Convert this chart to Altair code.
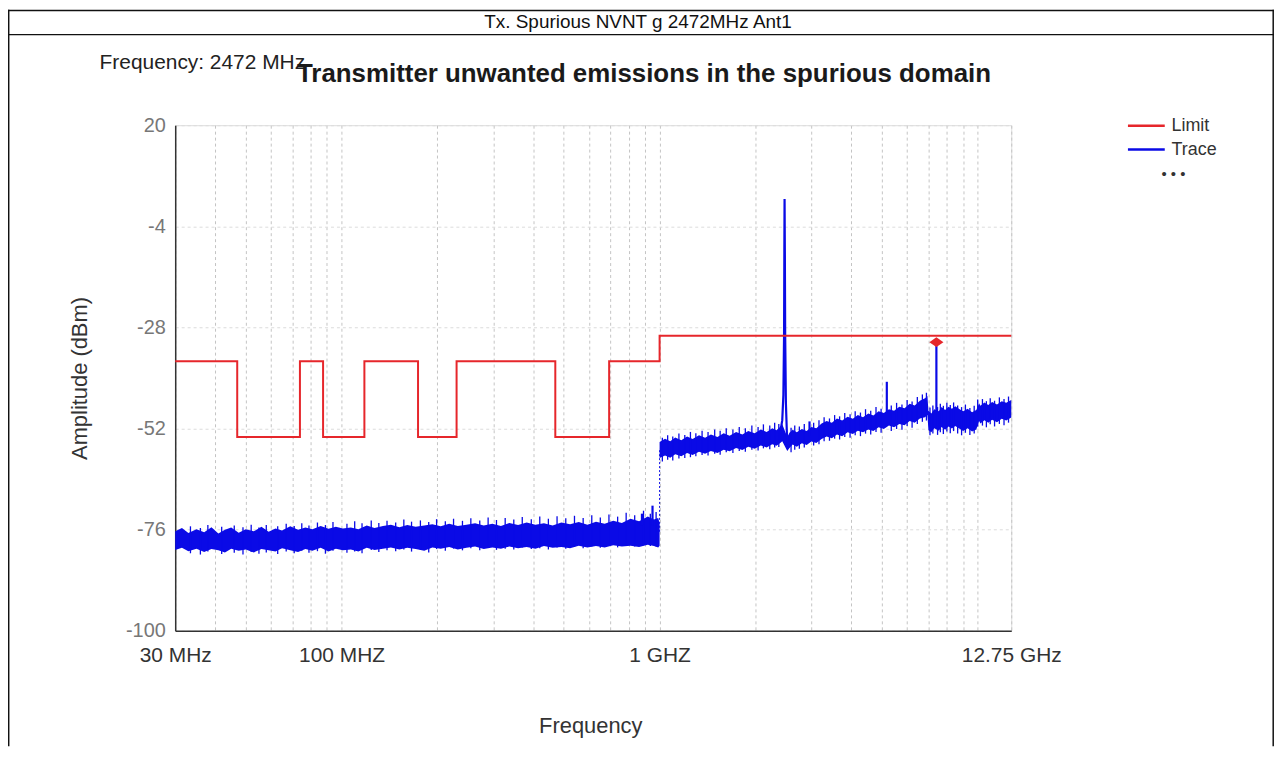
import altair as alt
import pandas as pd

# ---------------- data ----------------
limit_f = [30, 47, 47, 74, 74, 87.5, 87.5, 118, 118, 174, 174, 230, 230, 470, 470, 694, 694, 1000, 1000, 12750]
limit_db = [-36, -36, -54, -54, -36, -36, -54, -54, -36, -36, -54, -54, -36, -36, -54, -54, -36, -36, -30, -30]

# noise band of the trace: upper / lower envelope (dBm) at frequencies (MHz)
low_f = [30, 31.5, 33, 35, 37, 39, 41, 43, 45, 47.5,
         50, 53, 56, 59, 62, 65, 69, 73, 77, 81,
         86, 91, 96, 101, 107, 113, 120, 127, 135, 143,
         152, 161, 171, 182, 193, 205, 218, 232, 247, 263,
         280, 298, 317, 337, 359, 382, 407, 433, 461, 491,
         523, 557, 593, 631, 672, 715, 761, 810, 862, 918,
         960, 990, 1000]
low_hi = [-76.4, -75.6, -76.8, -75.9, -76.6, -75.4, -76.9, -76.0, -75.5, -76.7,
          -75.9, -76.4, -75.3, -76.5, -75.7, -76.2, -75.2, -76.0, -75.5, -75.9,
          -75.1, -75.8, -75.3, -75.7, -75.5, -75.9, -75.0, -75.6, -75.1, -74.8,
          -75.4, -74.9, -75.3, -75.0, -74.7, -75.2, -74.6, -75.1, -74.8, -74.5,
          -75.0, -74.6, -75.1, -74.4, -74.9, -74.3, -74.8, -74.5, -75.0, -74.3,
          -74.7, -74.2, -74.8, -74.1, -74.6, -73.9, -74.4, -73.4, -74.0, -72.9,
          -73.6, -73.2, -74.5]
low_lo = [-80.8, -80.3, -81.1, -80.5, -81.3, -80.6, -80.9, -81.4, -80.5, -81.0,
          -80.7, -81.4, -80.6, -80.9, -81.2, -80.4, -80.9, -81.3, -80.6, -81.0,
          -80.3, -81.2, -80.5, -80.9, -80.7, -81.2, -80.3, -80.8, -80.5, -80.2,
          -80.7, -80.3, -80.6, -81.0, -80.2, -80.5, -80.1, -80.7, -80.3, -80.0,
          -80.6, -80.2, -80.5, -80.0, -80.4, -80.1, -80.5, -79.9, -80.3, -80.1,
          -80.4, -79.8, -80.2, -79.9, -80.2, -79.7, -80.0, -79.8, -80.1, -79.6,
          -79.9, -80.2, -79.8]

high_f = [1000, 1040, 1080, 1120, 1170, 1220, 1270, 1330, 1390, 1450,
          1520, 1590, 1660, 1740, 1820, 1900, 1990, 2080, 2170, 2260,
          2330, 2390, 2430, 2520, 2560, 2620, 2700, 2800, 2900, 3000,
          3110, 3230, 3350, 3480, 3610, 3750, 3900, 4050, 4200, 4360,
          4530, 4700, 4880, 5070, 5260, 5460, 5670, 5890, 6110, 6340,
          6580, 6830, 6950, 7000, 7150, 7300, 7550, 7700, 7900, 8100,
          8300, 8500, 8800, 9000, 9300, 9600, 9900, 10100, 10200, 10500,
          10800, 11100, 11500, 11900, 12300, 12750]
high_hi = [-55.2, -54.4, -55.0, -54.1, -54.8, -53.9, -54.5, -53.6, -54.2, -53.4,
           -54.0, -53.1, -53.7, -52.8, -53.4, -52.6, -53.1, -52.2, -52.8, -51.9,
           -52.4, -51.6, -51.0, -54.0, -53.0, -52.3, -52.9, -52.1, -52.6, -51.6,
           -51.9, -50.8, -50.2, -50.6, -49.6, -50.1, -49.2, -49.7, -48.8, -49.3,
           -48.4, -48.9, -47.9, -48.3, -47.4, -47.8, -46.8, -47.2, -46.1, -46.5,
           -45.4, -44.8, -44.3, -47.8, -48.4, -47.4, -47.9, -46.9, -47.6, -46.8,
           -47.3, -46.7, -47.5, -47.9, -47.3, -48.1, -47.6, -46.0, -46.6, -45.8,
           -46.4, -45.7, -46.3, -45.5, -45.9, -45.2]
high_lo = [-59.0, -58.4, -58.9, -58.1, -58.6, -57.8, -58.3, -57.5, -58.0, -57.3,
           -57.8, -57.0, -57.4, -56.6, -57.1, -56.3, -56.8, -56.0, -56.5, -55.7,
           -56.1, -55.5, -55.0, -57.3, -56.6, -55.8, -56.3, -55.5, -55.9, -55.1,
           -55.4, -54.5, -53.9, -54.3, -53.4, -53.8, -52.9, -53.3, -52.5, -52.9,
           -52.2, -52.6, -51.7, -52.1, -51.3, -51.7, -50.9, -51.2, -50.2, -50.6,
           -49.6, -49.3, -48.8, -52.4, -52.9, -51.9, -52.5, -51.6, -52.3, -51.5,
           -52.0, -51.4, -52.1, -52.6, -51.9, -52.7, -52.2, -50.2, -50.8, -50.0,
           -50.6, -49.9, -50.5, -49.7, -50.1, -49.4]

# short noise excursions sticking out of the band
hair_f = [33.5, 36, 38, 42, 46, 49, 52, 55, 58, 63,
          67, 71, 75, 79, 84, 89, 94, 104, 110, 116,
          124, 131, 139, 148, 157, 166, 177, 188, 199, 212,
          225, 240, 255, 272, 289, 307, 327, 348, 370, 395,
          420, 447, 476, 507, 540, 575, 612, 651, 693, 738,
          785, 835, 890, 935, 975,
          1020, 1060, 1100, 1150, 1200, 1250, 1300, 1360, 1420, 1490,
          1550, 1620, 1700, 1780, 1860, 1950, 2040, 2120, 2220, 2300,
          2370, 2590, 2660, 2750, 2850, 3050, 3170, 3290, 3420, 3550,
          3680, 3820, 3970, 4120, 4280, 4440, 4610, 4790, 4970, 5350,
          5560, 5780, 6000, 6220, 6460, 6700, 6900, 7080, 7230, 7480,
          7630, 7800, 8000, 8200, 8400, 8650, 8900, 9150, 9450, 9750,
          10000, 10350, 10650, 10950, 11300, 11700, 12100, 12500]
hair_top = [-75.2, -75.6, -74.9, -75.3, -75.0, -75.4, -74.8, -75.5, -74.9, -75.2,
            -74.6, -75.1, -74.5, -75.0, -74.3, -74.9, -74.2, -74.6, -74.0, -74.5,
            -73.8, -74.4, -73.9, -74.3, -73.6, -74.1, -73.8, -74.2, -73.5, -74.0,
            -73.4, -73.9, -73.3, -73.8, -73.1, -73.7, -73.2, -73.6, -73.0, -73.5,
            -72.9, -73.4, -72.8, -73.3, -72.7, -73.2, -72.6, -73.1, -72.4, -72.9,
            -72.0, -72.6, -71.5, -72.2, -71.8,
            -54.2, -53.6, -53.9, -53.2, -53.5, -52.8, -53.1, -52.5, -52.8, -52.2,
            -52.5, -51.9, -52.2, -51.6, -51.9, -51.3, -51.6, -51.0, -51.3, -50.6,
            -50.9, -51.8, -51.3, -51.5, -50.9, -50.6, -50.0, -49.3, -49.6, -48.8,
            -49.1, -48.3, -48.6, -47.9, -48.2, -47.4, -47.8, -46.9, -47.3, -46.5,
            -45.9, -46.3, -45.2, -45.6, -44.5, -43.9, -43.5, -47.0, -46.5, -46.9,
            -46.1, -46.6, -45.9, -46.4, -45.8, -46.5, -46.9, -46.3, -47.1, -46.6,
            -45.1, -45.0, -45.5, -44.8, -45.4, -44.6, -45.0, -44.4]
hair_bot = [-81.6, -81.9, -81.2, -81.8, -81.5, -81.9, -81.3, -81.7, -81.4, -81.8,
            -81.2, -81.6, -81.0, -81.5, -81.1, -81.7, -81.0, -81.5, -81.2, -81.6,
            -80.8, -81.3, -80.9, -81.1, -80.7, -81.2, -80.8, -81.4, -80.6, -81.0,
            -80.5, -80.9, -80.4, -80.9, -80.3, -80.8, -80.5, -80.7, -80.2, -80.6,
            -80.4, -80.7, -80.2, -80.5, -80.1, -80.4, -80.0, -80.3, -79.9, -80.2,
            -79.8, -80.0, -79.7, -79.9, -80.0,
            -59.8, -59.4, -59.6, -59.1, -59.0, -58.8, -58.6, -58.3, -58.4, -58.0,
            -58.2, -57.6, -57.8, -57.3, -57.5, -57.0, -57.2, -56.7, -56.9, -56.5,
            -56.4, -57.6, -57.0, -56.8, -56.5, -56.0, -55.7, -55.0, -54.9, -54.4,
            -54.6, -54.0, -54.2, -53.6, -53.8, -53.2, -53.4, -52.8, -53.0, -52.6,
            -52.1, -52.3, -51.4, -51.8, -50.9, -50.4, -50.1, -53.6, -53.2, -53.5,
            -52.9, -53.3, -52.7, -53.1, -52.6, -53.2, -53.6, -53.0, -53.5, -53.2,
            -51.5, -51.3, -51.7, -51.0, -51.5, -50.9, -51.2, -50.6]

peak_f = [2400, 2430, 2450, 2462, 2467, 2471, 2476, 2482, 2495, 2515, 2540]
peak_db = [-52.5, -50.0, -44.0, -30.0, -10.0, 2.5, -10.0, -30.0, -46.0, -54.0, -56.5]

spike_f = [880, 950, 2960, 5180, 7416]
spike_base = [-75.0, -75.0, -54.0, -48.5, -48.0]
spike_top = [-72.2, -70.3, -50.3, -40.9, -31.6]

step_f = [1000]
step_from = [-76.5]
step_to = [-57.0]

marker_f = [7416]
marker_db = [-31.5]

tick_values = [30, 40, 50, 60, 70, 80, 90, 100, 200, 300, 400, 500, 600, 700, 800, 900,
               1000, 2000, 3000, 4000, 5000, 6000, 7000, 8000, 9000, 10000, 12750]
label_values = [30, 100, 1000, 12750]
label_texts = ["30 MHz", "100 MHZ", "1 GHZ", "12.75 GHz"]
y_ticks = [-100, -76, -52, -28, -4, 20]

series_names = ["Limit", "Trace"]
RED = "#e6262b"
BLUE = "#0a0ae6"
FONT = "Liberation Sans"

# ---------------- tables ----------------
limit_df = pd.DataFrame({"f": limit_f, "db": limit_db, "idx": list(range(len(limit_f))), "series": "Limit"})
band_df = pd.concat([
    pd.DataFrame({"f": low_f, "hi": low_hi, "lo": low_lo, "seg": "low"}),
    pd.DataFrame({"f": high_f, "hi": high_hi, "lo": high_lo, "seg": "high"}),
])
hair_df = pd.DataFrame({"f": hair_f, "top": hair_top, "bot": hair_bot})
peak_df = pd.DataFrame({"f": peak_f, "db": peak_db, "series": "Trace"})
spike_df = pd.DataFrame({"f": spike_f, "base": spike_base, "top": spike_top, "series": "Trace"})
step_df = pd.DataFrame({"f": step_f, "a": step_from, "b": step_to})
marker_df = pd.DataFrame({"f": marker_f, "db": marker_db})

label_expr = " : ".join(
    f"datum.value == {v} ? '{t}'" for v, t in zip(label_values, label_texts)
) + " : ''"

x_scale = alt.Scale(type="log", domain=[30, 12750], nice=False)
y_scale = alt.Scale(domain=[-100, 20], nice=False)

x_axis = alt.Axis(
    values=tick_values, labelExpr=label_expr, labelOverlap=False, labelFlush=False,
    grid=True, gridDash=[3, 3], gridColor="#c4c4c4", gridWidth=1,
    ticks=False, labelPadding=14, labelFontSize=21, labelColor="#333333", labelFont=FONT,
    domainColor="#333333", domainWidth=1.5,
    title="Frequency", titleFontSize=22, titleFontWeight="normal", titleColor="#333333",
    titleFont=FONT, titleX=417, titleY=95, titleBaseline="middle",
)
y_axis = alt.Axis(
    values=y_ticks, labelExpr="'' + datum.value",
    grid=True, gridDash=[3, 3], gridColor="#dcdcdc", gridWidth=1,
    ticks=False, labelPadding=10, labelFontSize=20, labelColor="#777777", labelFont=FONT,
    domainColor="#333333", domainWidth=1.5,
    title="Amplitude (dBm)", titleFontSize=22, titleFontWeight="normal", titleColor="#333333",
    titleFont=FONT, titleX=-96, titleY=254, titleBaseline="middle",
)

def X():
    return alt.X("f:Q", scale=x_scale, axis=x_axis)

def Y(field):
    return alt.Y(f"{field}:Q", scale=y_scale, axis=y_axis)

# legend symbol: a long horizontal stroke on a small nominal symbol size
color = alt.Color(
    "series:N",
    scale=alt.Scale(domain=series_names, range=[RED, BLUE]),
    legend=alt.Legend(
        orient="none", legendX=956, legendY=-10, title=None,
        symbolType="M-1,0L3,0", symbolSize=342, symbolStrokeWidth=2.5,
        symbolFillColor="transparent",
        labelFontSize=18, labelColor="#333333", labelFont=FONT, labelOffset=24,
        rowPadding=4,
    ),
)

band = alt.Chart(band_df).mark_area(color=BLUE, opacity=1).encode(
    x=X(), y=Y("hi"), y2="lo:Q", detail="seg:N"
)
hairs = alt.Chart(hair_df).mark_rule(color=BLUE, strokeWidth=1.3).encode(
    x=X(), y=Y("top"), y2="bot:Q"
)
step = alt.Chart(step_df).mark_rule(color=BLUE, strokeWidth=1, strokeDash=[2, 2]).encode(
    x=X(), y=Y("a"), y2="b:Q"
)
spikes = alt.Chart(spike_df).mark_rule(strokeWidth=2.2).encode(
    x=X(), y=Y("top"), y2="base:Q", color=color
)
peak = alt.Chart(peak_df).mark_line(strokeWidth=2.2).encode(
    x=X(), y=Y("db"), color=color
)
limit = alt.Chart(limit_df).mark_line(strokeWidth=2).encode(
    x=X(), y=Y("db"), color=color, order="idx:Q"
)
marker = alt.Chart(marker_df).mark_point(
    shape="M-1,0L0,-0.7L1,0L0,0.7Z", filled=True, size=200, color=RED, opacity=1
).encode(x=X(), y=Y("db"))

dummy = pd.DataFrame({"k": [0]})
header = alt.Chart(dummy).mark_text(
    text="Tx. Spurious NVNT g 2472MHz Ant1", fontSize=19, font=FONT, color="#111111",
    align="center", baseline="middle"
).encode(x=alt.value(465), y=alt.value(-104))
freq_note = alt.Chart(dummy).mark_text(
    text="Frequency: 2472 MHz", fontSize=21, font=FONT, color="#222222",
    align="left", baseline="middle"
).encode(x=alt.value(-76), y=alt.value(-62))
main_title = alt.Chart(dummy).mark_text(
    text="Transmitter unwanted emissions in the spurious domain", fontSize=26,
    fontWeight="bold", font=FONT, color="#1a1a1a", align="center", baseline="middle"
).encode(x=alt.value(471), y=alt.value(-51))
dots = alt.Chart(dummy).mark_text(
    text="• • •", fontSize=15, font=FONT, color="#333333", align="center", baseline="middle"
).encode(x=alt.value(1003), y=alt.value(49))

frame_color = "#111111"
frame_top = alt.Chart(dummy).mark_rule(color=frame_color, strokeWidth=1.5).encode(
    x=alt.value(-168), x2=alt.value(1104), y=alt.value(-115.3))
frame_mid = alt.Chart(dummy).mark_rule(color=frame_color, strokeWidth=1.5).encode(
    x=alt.value(-168), x2=alt.value(1104), y=alt.value(-91))
frame_left = alt.Chart(dummy).mark_rule(color=frame_color, strokeWidth=1.5).encode(
    x=alt.value(-167.3), y=alt.value(-116), y2=alt.value(624))
frame_right = alt.Chart(dummy).mark_rule(color=frame_color, strokeWidth=1.5).encode(
    x=alt.value(1103.2), y=alt.value(-116), y2=alt.value(624))

chart = alt.layer(
    band, hairs, step, spikes, peak, limit, marker,
    header, freq_note, main_title, dots, frame_top, frame_mid, frame_left, frame_right,
).properties(
    width=840, height=508,
    autosize=alt.AutoSizeParams(type="none"),
    padding={"left": 168, "top": 116, "right": 264, "bottom": 116},
).configure_view(stroke="transparent").configure(font=FONT)

chart.save("out.html", embed_options={"renderer": "svg", "actions": False})
